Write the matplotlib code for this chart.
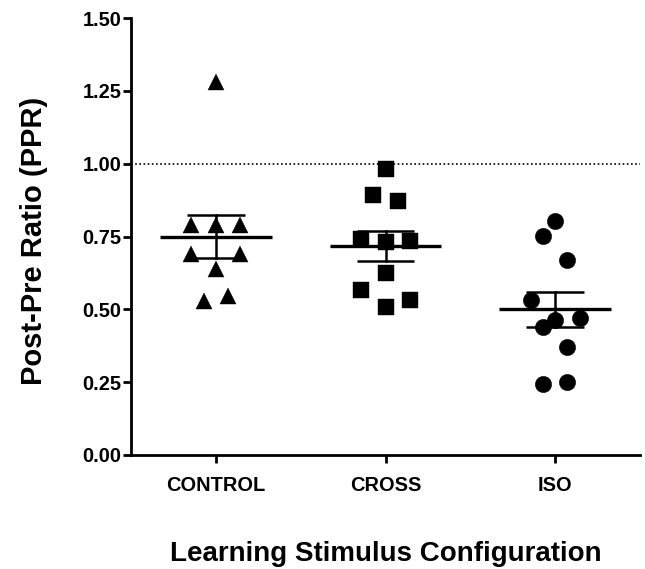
import numpy as np
import matplotlib
matplotlib.use("Agg")
import matplotlib.pyplot as plt

plt.rcParams['font.family'] = ['Liberation Sans', 'DejaVu Sans']

categories = ["CONTROL", "CROSS", "ISO"]
control = [1.28, 0.79, 0.79, 0.79, 0.69, 0.69, 0.64, 0.53, 0.545]
cross = [0.982, 0.894, 0.871, 0.743, 0.73, 0.734, 0.626, 0.566, 0.508, 0.531]
iso = [0.802, 0.753, 0.671, 0.532, 0.463, 0.471, 0.44, 0.371, 0.243, 0.251]
yticks = [0.00, 0.25, 0.50, 0.75, 1.00, 1.25, 1.50]
reference_level = 1.0

# scatter layout (horizontal slots, in half-marker steps)
control_slots = [0, -2, 0, 2, -2, 2, 0, -1, 1]
cross_slots = [0, -1, 1, -2, 0, 2, 0, -2, 0, 2]
iso_slots = [0, -1, 1, -2, 0, 2, -1, 1, -1, 1]

groups = [control, cross, iso]
slots = [control_slots, cross_slots, iso_slots]
markers = ['^', 's', 'o']
msizes = [11.5, 11.5, 11.8]
step = 0.072

fig = plt.figure(figsize=(6.45, 5.69), dpi=100)
ax = fig.add_axes([131/645, 1-455/569, (640-131)/645, (455-18)/569])

for i, (vals, sl, m, ms) in enumerate(zip(groups, slots, markers, msizes)):
    v = np.array(vals)
    x = i + np.array(sl) * step
    ax.plot(x, v, linestyle='none', marker=m, markersize=ms, color='black',
            markeredgewidth=0.3, zorder=3)
    mean = v.mean()
    sem = v.std(ddof=1) / np.sqrt(len(v))
    ax.plot([i - 0.33, i + 0.33], [mean, mean], color='black', lw=2.4, zorder=4,
            solid_capstyle='butt')
    ax.plot([i, i], [mean - sem, mean + sem], color='black', lw=1.8, zorder=4)
    for yy in (mean - sem, mean + sem):
        ax.plot([i - 0.17, i + 0.17], [yy, yy], color='black', lw=1.8, zorder=4,
                solid_capstyle='butt')

ax.axhline(reference_level, color='black', lw=1.2, linestyle=(0, (1, 1.5)), zorder=1)

ax.set_xlim(-0.5, 2.5)
ax.set_ylim(0, 1.5)
ax.set_yticks(yticks)
ax.set_yticklabels([f"{t:.2f}" for t in yticks])
ax.set_xticks(range(len(categories)))
ax.set_xticklabels(categories)

for s in ['top', 'right']:
    ax.spines[s].set_visible(False)
for s in ['left', 'bottom']:
    ax.spines[s].set_linewidth(2.0)
ax.tick_params(axis='both', direction='out', length=6, width=2.0, labelsize=14.4)
ax.tick_params(axis='y', pad=1)
ax.tick_params(axis='x', pad=9)
for lab in ax.get_xticklabels() + ax.get_yticklabels():
    lab.set_fontweight('bold')

ax.set_ylabel("Post-Pre Ratio (PPR)", fontsize=21, fontweight='bold')
ax.yaxis.set_label_coords(-0.163, 0.49)
ax.set_xlabel("Learning Stimulus Configuration", fontsize=20, fontweight='bold', labelpad=33)

fig.savefig("out.png", dpi=100)
